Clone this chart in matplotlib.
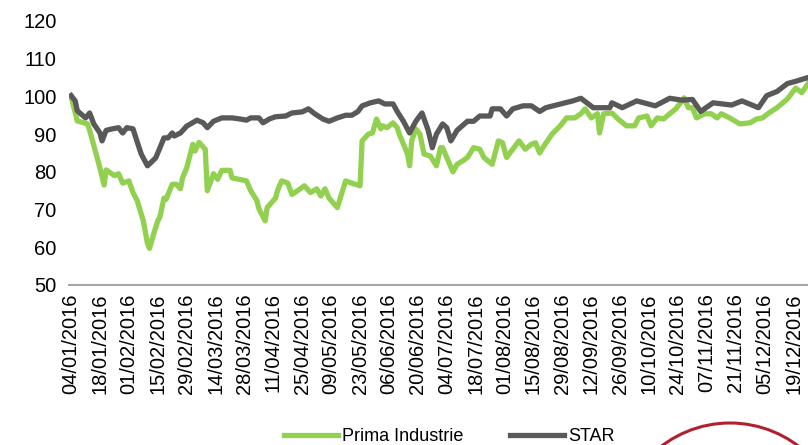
import matplotlib
matplotlib.use("Agg")
import matplotlib.pyplot as plt
import matplotlib.dates as mdates
from matplotlib.patches import Ellipse
import pandas as pd

plt.rcParams['font.family'] = ['Liberation Sans', 'DejaVu Sans']

START = pd.Timestamp("2016-01-04")

# days since 04/01/2016 and index level
prima_days = [0, 3, 8, 9, 12, 14, 16, 17, 21, 23, 25, 28, 30, 32, 35, 37, 38, 40, 42, 43,
              45, 46, 49, 51, 53, 54, 56, 59, 60, 62, 65, 66, 69, 71, 73, 77, 78, 85, 87, 90,
              91, 94, 95, 99, 100, 102, 105, 107, 111, 113, 116, 119, 121, 123, 125, 129, 133, 136, 140, 141,
              144, 146, 148, 150, 151, 153, 156, 158, 159, 163, 164, 165, 167, 169, 171, 174, 177, 179, 180, 182,
              185, 187, 190, 192, 195, 198, 200, 204, 207, 209, 211, 214, 217, 220, 223, 225, 227, 229, 233, 237,
              240, 244, 247, 249, 252, 255, 256, 258, 262, 265, 269, 273, 275, 279, 281, 284, 287, 290, 293, 297,
              299, 301, 303, 307, 310, 313, 315, 319, 324, 329, 332, 335, 338, 342, 347, 351, 354, 357]
prima_vals = [100, 93.5, 92.7, 91, 85, 81, 76.5, 80.5, 79, 79.5, 77, 77.6, 74.5, 72.4, 67, 61, 59.7, 63.5, 67, 68,
              73, 72.7, 76.7, 76.7, 75.5, 78.4, 81, 87.3, 85.5, 87.8, 86, 75, 79.5, 78, 80.4, 80.4, 78.4, 77.6, 75, 72.4,
              70.2, 67, 70.5, 73, 75, 77.6, 77, 74, 75.5, 76.3, 74.5, 75.5, 73.6, 75.5, 73, 70.5, 77.6, 77, 76.3, 88.2,
              90, 90.3, 94, 91.4, 92.2, 91.7, 93, 91.7, 90, 84.7, 81.6, 88.2, 91.4, 90, 84.7, 84.2, 81.6, 86.4, 86.4, 83.8,
              80, 82, 83, 83.8, 86.4, 86, 83.8, 82, 88.2, 87.7, 83.8, 86, 88.2, 86, 87.3, 87.7, 85, 86.8, 90, 92.2,
              94.3, 94.3, 95.4, 96.7, 94.3, 95.4, 90.3, 95.4, 95.6, 94, 92.2, 92.2, 94.3, 94.8, 92.2, 94.3, 94, 95.4, 96.7, 99.6,
              97, 97, 94.3, 95.4, 95.4, 94.3, 95.4, 94.3, 92.7, 93, 94, 94.3, 95.6, 97, 99.3, 102.2, 101, 103.4]

star_days = [0, 2, 3, 7, 9, 11, 14, 15, 17, 20, 23, 25, 27, 30, 32, 34, 37, 38, 41, 43,
             45, 47, 49, 50, 53, 56, 61, 64, 66, 69, 73, 78, 82, 85, 87, 91, 93, 96, 99, 104,
             107, 112, 115, 118, 122, 125, 129, 133, 136, 139, 141, 145, 149, 152, 156, 158, 161, 164, 167, 170,
             173, 175, 177, 180, 182, 184, 187, 192, 195, 198, 203, 204, 208, 211, 214, 219, 223, 227, 230, 235,
             243, 247, 253, 261, 262, 267, 274, 283, 290, 296, 301, 305, 311, 320, 325, 333, 337, 342, 347, 351, 357]
star_vals = [100.2, 98.8, 96.2, 94.3, 95.6, 92.7, 90.3, 88.2, 91, 91.4, 91.7, 90.3, 91.7, 91.4, 88, 84.7, 81.6, 82.1, 83.7, 86.3,
             89, 89, 90.3, 89.5, 90.3, 92.1, 93.7, 93, 91.7, 93.4, 94.3, 94.3, 94, 93.7, 94.3, 94.3, 93, 94, 94.6, 94.8,
             95.6, 95.9, 96.7, 95.4, 94, 93.4, 94.3, 95, 95, 96, 97.5, 98.3, 98.8, 98, 98, 96, 93.4, 90.3, 93.4, 95.6,
             91, 86.4, 90, 92.7, 91.7, 88.2, 91, 93.4, 93.4, 94.8, 94.8, 96.7, 96.7, 94.8, 96.7, 97.5, 97.5, 96, 97, 97.7,
             98.8, 99.5, 97, 97, 98.3, 97, 98.8, 97.5, 99.5, 99, 99.2, 96, 98.3, 97.7, 98.8, 97, 100.2, 101.3, 103.4, 104, 105]

prima_dates = START + pd.to_timedelta(prima_days, unit="D")
star_dates = START + pd.to_timedelta(star_days, unit="D")
tick_dates = pd.date_range(START, periods=26, freq="14D")

fig = plt.figure(figsize=(8.08, 4.45), dpi=100)
ax = fig.add_axes([0.0854, 0.3596, 0.9146, 0.5933])

ax.plot(prima_dates, prima_vals, color="#92D050", lw=3.8, label="Prima Industrie",
        solid_joinstyle="round", zorder=2)
ax.plot(star_dates, star_vals, color="#595959", lw=3.8, label="STAR",
        solid_joinstyle="round", zorder=3)

ax.set_ylim(50, 120)
ax.set_yticks(range(50, 121, 10))
ax.set_xlim(START - pd.Timedelta(days=1), START + pd.Timedelta(days=357))
ax.set_xticks(tick_dates)
ax.xaxis.set_major_formatter(mdates.DateFormatter("%d/%m/%Y"))

for s in ["top", "right", "left"]:
    ax.spines[s].set_visible(False)
ax.spines["bottom"].set_color("#a6a6a6")
ax.spines["bottom"].set_linewidth(1.5)
ax.tick_params(axis="both", length=0, labelsize=14.5, colors="black")
ax.tick_params(axis="y", pad=9)
ax.tick_params(axis="x", pad=6)
plt.setp(ax.get_xticklabels(), rotation=90)

fig.legend(loc="center", bbox_to_anchor=(0.556, 0.018), ncol=2, frameon=False,
           prop={"family": ["Liberation Sans Narrow", "Liberation Sans"], "size": 13},
           handlelength=3.0, handletextpad=0.2, columnspacing=2.6)

# partial logo ring at the bottom right
fig.patches.append(Ellipse((730 / 808, 1 - 536 / 445), 226 / 808, 226 / 445,
                           transform=fig.transFigure, fill=False, edgecolor="#B0202E", lw=2.2))

fig.savefig("out.png", dpi=100)
